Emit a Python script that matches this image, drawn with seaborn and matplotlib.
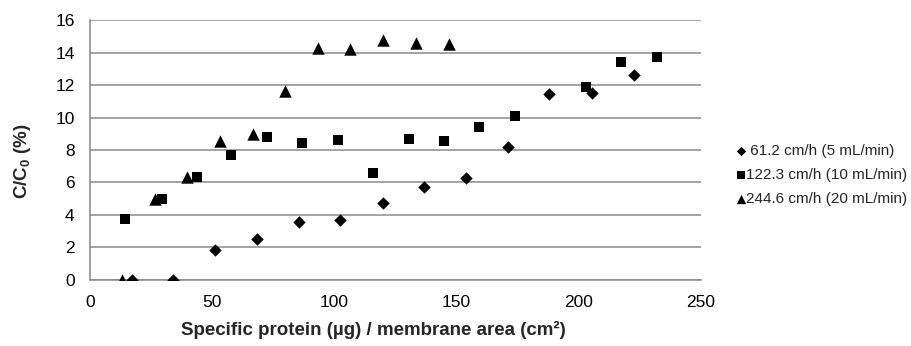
import matplotlib
matplotlib.use("Agg")
import matplotlib.pyplot as plt
import seaborn as sns
import pandas as pd

# Data
x_61 = [17.3, 34.1, 51.1, 68.2, 85.6, 102.4, 119.8, 136.7, 153.8, 170.9, 187.9, 205.3, 222.6]
y_61 = [0.0, 0.0, 1.85, 2.52, 3.55, 3.67, 4.74, 5.70, 6.30, 8.18, 11.43, 11.5, 12.6]

x_122 = [14.3, 29.6, 43.6, 57.7, 72.3, 86.9, 101.3, 115.9, 130.4, 144.7, 159.3, 173.9, 202.9, 217.1, 231.9]
y_122 = [3.73, 4.98, 6.36, 7.71, 8.8, 8.45, 8.63, 6.6, 8.70, 8.57, 9.43, 10.07, 11.86, 13.4, 13.74]

x_244 = [13.2, 26.6, 39.8, 53.2, 66.6, 79.9, 93.4, 106.5, 120.0, 133.2, 146.8]
y_244 = [0.0, 4.98, 6.32, 8.57, 8.98, 11.61, 14.3, 14.2, 14.75, 14.6, 14.5]

labels = [" 61.2 cm/h (5 mL/min)", "122.3 cm/h (10 mL/min)", "244.6 cm/h (20 mL/min)"]
x_ticks = [0, 50, 100, 150, 200, 250]
y_ticks = [0, 2, 4, 6, 8, 10, 12, 14, 16]

sns.set_theme(style="white")
plt.rcParams['font.family'] = ['Liberation Sans', 'DejaVu Sans']
plt.rcParams['mathtext.fontset'] = 'custom'
plt.rcParams['mathtext.rm'] = 'Liberation Sans'
plt.rcParams['mathtext.bf'] = 'Liberation Sans:bold'

fig = plt.figure(figsize=(9.12, 3.46), dpi=100)
ax = fig.add_axes([0.0987, 0.191, 0.670, 0.751])

series = [(x_61, y_61, "D", 40), (x_122, y_122, "s", 62), (x_244, y_244, "^", 80)]
for (xs, ys, m, s), lab in zip(series, labels):
    df = pd.DataFrame({"x": xs, "y": ys})
    sns.scatterplot(data=df, x="x", y="y", marker=m, s=s, color="black",
                    edgecolor="black", linewidth=0, ax=ax, label=lab, zorder=3)

ax.set_xlim(0, 250)
ax.set_ylim(0, 16)
ax.set_xticks(x_ticks)
ax.set_yticks(y_ticks)
ax.tick_params(axis="both", labelsize=12.5, colors="black", length=4, width=1, direction="out")
ax.tick_params(axis="x", color="#888888", pad=7)
ax.tick_params(axis="y", color="#888888", pad=7)
ax.grid(axis="y", color="#8a8a8a", linewidth=1.1)
ax.set_axisbelow(True)
for sp in ["top", "right"]:
    ax.spines[sp].set_visible(False)
for sp in ["left", "bottom"]:
    ax.spines[sp].set_color("#888888")
    ax.spines[sp].set_linewidth(1.1)

ax.set_xlabel("Specific protein (µg) / membrane area (cm²)", fontsize=13.5, fontweight="bold")
ax.set_ylabel(r"C/C$_{\mathbf{0}}$ (%)", fontsize=13.5, fontweight="bold")
ax.xaxis.set_label_coords(0.463, -0.158)
ax.yaxis.set_label_coords(-0.093, 0.458)

leg = ax.legend(loc="center left", bbox_to_anchor=(0.807, 0.494), bbox_transform=fig.transFigure,
                frameon=False, fontsize=11, handletextpad=0.05, handlelength=0.6,
                labelspacing=0.68, markerscale=0.75, borderaxespad=0, borderpad=0)

fig.savefig("out.png", dpi=100)
